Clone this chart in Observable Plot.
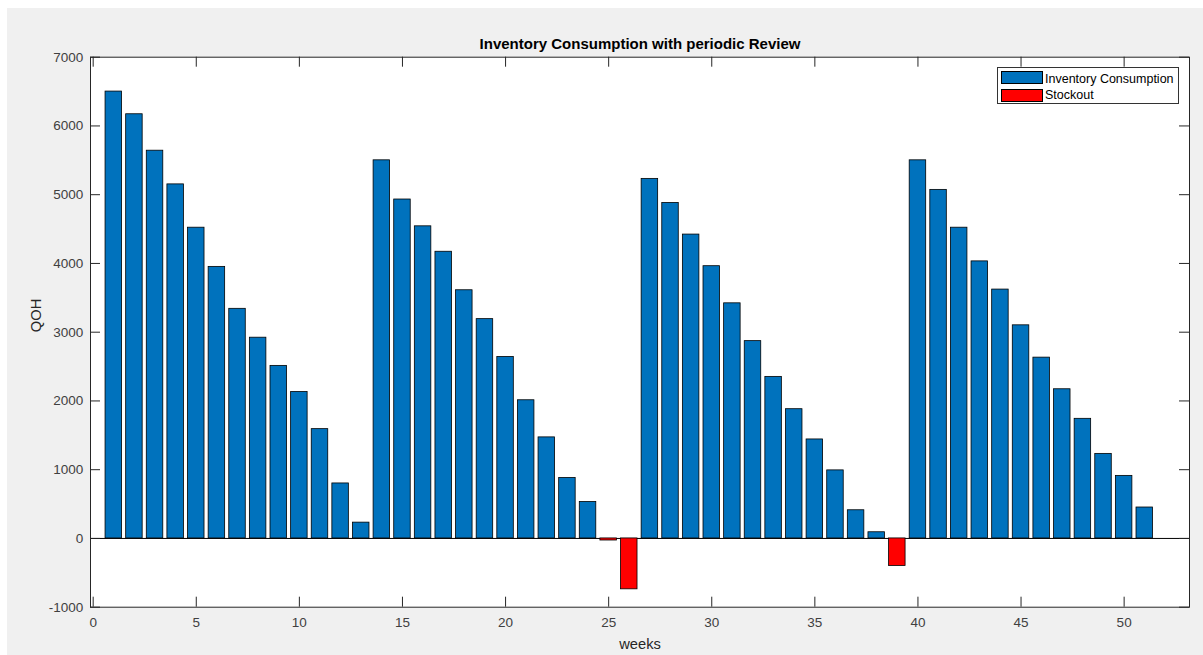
<!DOCTYPE html>
<html>
<head>
<meta charset="utf-8">
<script src="https://cdn.jsdelivr.net/npm/d3@7"></script>
<script src="https://cdn.jsdelivr.net/npm/@observablehq/plot@0.6"></script>
<style>
  html, body { margin: 0; padding: 0; background: #ffffff; width: 1203px; height: 655px; overflow: hidden;
    font-family: "Liberation Sans", Arial, Helvetica, sans-serif; }
  #bg { position: absolute; left: 7px; top: 8px; right: 0; bottom: 0; background: #f0f0f0; }
  #chart { position: absolute; left: 0; top: 0; }
  .lg { position: absolute; box-sizing: border-box; }
  #legend-box { left: 996.5px; top: 67px; width: 182px; height: 37px; background: #fff; border: 1px solid #333; }
  .sw { width: 42px; height: 13px; border: 1px solid #000; left: 1001px; }
  .lt { left: 1045px; font-size: 12.5px; line-height: 12.5px; color: #000; white-space: nowrap; }
</style>
</head>
<body>
<div id="bg"></div>
<div id="chart"></div>
<div id="legend"></div>
<script>
// ---- data ----
const weeks = d3.range(1, 53);
const inventory = [6500, 6170, 5640, 5150, 4520, 3950, 3340, 2920, 2510, 2130, 1590, 800, 230,
  5500, 4930, 4540, 4170, 3610, 3190, 2640, 2010, 1470, 880, 530, 0, 0,
  5230, 4880, 4420, 3960, 3420, 2870, 2350, 1880, 1440, 990, 410, 90, 0,
  5500, 5070, 4520, 4030, 3620, 3100, 2630, 2170, 1740, 1230, 910, 450, 0];
const stockout = [0, 0, 0, 0, 0, 0, 0, 0, 0, 0, 0, 0, 0,
  0, 0, 0, 0, 0, 0, 0, 0, 0, 0, 0, -30, -740,
  0, 0, 0, 0, 0, 0, 0, 0, 0, 0, 0, 0, -400,
  0, 0, 0, 0, 0, 0, 0, 0, 0, 0, 0, 0, 0];
const xTicks = [0, 5, 10, 15, 20, 25, 30, 35, 40, 45, 50];
const yTicks = [-1000, 0, 1000, 2000, 3000, 4000, 5000, 6000, 7000];
const seriesNames = ["Inventory Consumption", "Stockout"];
const seriesColors = ["#0072BD", "#FF0000"];
const titleText = "Inventory Consumption with periodic Review";
const xLabel = "weeks";
const yLabel = "QOH";

const invData = weeks.map((w, i) => ({week: w, value: inventory[i]}));
const stockData = weeks.map((w, i) => ({week: w, value: stockout[i]})).filter(d => d.value !== 0);

// ---- layout ----
const W = 1203, H = 655;
const mL = 90, mR = 14, mT = 56.7, mB = 48.3;
const plotW = W - mL - mR, plotH = H - mT - mB;
const barHalf = 0.4;
const font = "Liberation Sans, Arial, Helvetica, sans-serif";
const axisColor = "#262626";

const chart = Plot.plot({
  width: W, height: H,
  marginLeft: mL, marginRight: mR, marginTop: mT, marginBottom: mB,
  style: {background: "transparent", fontFamily: font, color: axisColor, overflow: "visible"},
  x: {domain: [-0.13, 53.17]},
  y: {domain: [-1000, 7000]},
  marks: [
    Plot.frame({fill: "white", stroke: null}),
    Plot.ruleY([0], {stroke: "#000", strokeWidth: 1}),
    Plot.rectY(invData, {x1: d => d.week - barHalf, x2: d => d.week + barHalf, y1: d => 0, y2: d => d.value,
      fill: seriesColors[0], stroke: "#000", strokeWidth: 0.8}),
    Plot.rectY(stockData, {x1: d => d.week - barHalf, x2: d => d.week + barHalf, y1: d => 0, y2: d => d.value,
      fill: seriesColors[1], stroke: "#000", strokeWidth: 0.8}),
    // inward ticks on all four sides
    Plot.ruleX(xTicks, {insetTop: plotH - 10, stroke: axisColor}),
    Plot.ruleX(xTicks, {insetBottom: plotH - 10, stroke: axisColor}),
    Plot.ruleY(yTicks, {insetRight: plotW - 10, stroke: axisColor}),
    Plot.ruleY(yTicks, {insetLeft: plotW - 10, stroke: axisColor}),
    Plot.axisX({ticks: xTicks, tickSize: 0, tickPadding: 10.6, label: null, fontSize: 13.5, fill: "#404040",
      tickFormat: d => String(d)}),
    Plot.axisY({ticks: yTicks, tickSize: 0, tickPadding: 7.3, label: null, fontSize: 13.5, fill: "#404040",
      tickFormat: d => String(d)}),
    Plot.text([xLabel], {frameAnchor: "bottom", dy: 37, lineAnchor: "middle", fontSize: 14.7,
      fontFamily: font, fill: "#262626"}),
    Plot.text([yLabel], {frameAnchor: "left", dx: -54.7, rotate: -90, lineAnchor: "middle", fontSize: 14.7,
      fontFamily: font, fill: "#262626"}),
    Plot.text([titleText], {frameAnchor: "top", dy: -13, lineAnchor: "middle", fontSize: 15,
      fontWeight: "bold", fontFamily: font, fill: "#000"}),
    Plot.frame({stroke: axisColor, strokeWidth: 1})
  ]
});
document.getElementById("chart").appendChild(chart);

// ---- legend ----
const lg = document.getElementById("legend");
const box = document.createElement("div");
box.className = "lg"; box.id = "legend-box";
lg.appendChild(box);
const swTops = [70.7, 88.7];
const txtTops = [72.6, 88.6];
seriesNames.forEach((name, i) => {
  const sw = document.createElement("div");
  sw.className = "lg sw";
  sw.style.top = swTops[i] + "px";
  sw.style.background = seriesColors[i];
  lg.appendChild(sw);
  const t = document.createElement("div");
  t.className = "lg lt";
  t.style.top = txtTops[i] + "px";
  t.textContent = name;
  lg.appendChild(t);
});
</script>
</body>
</html>
